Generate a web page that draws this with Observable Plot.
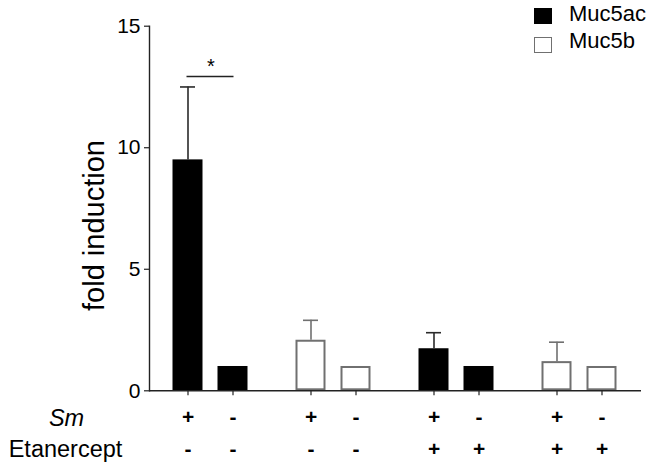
<!DOCTYPE html>
<html><head><meta charset="utf-8">
<script src="https://cdn.jsdelivr.net/npm/d3@7"></script>
<script src="https://cdn.jsdelivr.net/npm/@observablehq/plot@0.6"></script>
<style>
body{margin:0;background:#fff;}
#wrap{position:relative;width:652px;height:469px;font-family:"Liberation Sans",Arial,sans-serif;color:#000;}
#legend .sw{position:absolute;width:18px;height:16px;box-sizing:border-box;}
#legend .lb{position:absolute;font-size:22px;line-height:22px;white-space:nowrap;}
</style></head><body>
<div id="wrap"><div id="chart"></div><div id="legend"></div></div>
<script>
// ---- data ----
const genes = ["Muc5ac","Muc5ac","Muc5b","Muc5b","Muc5ac","Muc5ac","Muc5b","Muc5b"];
const smSign = ["+","-","+","-","+","-","+","-"];
const etanerceptSign = ["-","-","-","-","+","+","+","+"];
const foldInduction = [9.5, 1.0, 2.08, 1.0, 1.73, 1.0, 1.2, 1.0];
const errorUpper = [3.0, 0, 0.82, 0, 0.66, 0, 0.8, 0];
const yTicks = [0, 5, 10, 15];
const legendLabels = ["Muc5ac", "Muc5b"];
const rowLabels = ["Sm", "Etanercept"];
const sigFrom = ["+"], sigTo = ["-"], sigLevel = [12.93], sigLabel = ["*"];

// ---- styles ----
const fills = {Muc5ac: "#000", Muc5b: "#fff"};
const strokes = {Muc5ac: "#000", Muc5b: "#707070"};
const errStrokes = {Muc5ac: "#2a2a2a", Muc5b: "#707070"};
const axisColor = "#222";
const font = '"Liberation Sans", Arial, sans-serif';

const data = genes.map((g, i) => ({
  gene: g, sm: smSign[i], eta: etanerceptSign[i],
  group: `${g} / Etanercept ${etanerceptSign[i]}`,
  value: foldInduction[i], err: errorUpper[i]
}));
const groups = [...new Set(data.map(d => d.group))];
const sig = sigLevel.map((l, i) => ({group: groups[0], from: sigFrom[i], to: sigTo[i], level: l, label: sigLabel[i]}));

const chart = Plot.plot({
  width: 652, height: 469,
  marginLeft: 148.5, marginRight: 11.5, marginTop: 25.7, marginBottom: 78.7,
  style: {fontFamily: font, color: "#000", background: "transparent", overflow: "visible"},
  fx: {domain: groups, padding: 0, axis: null, label: null},
  x: {domain: ["+", "-"], paddingInner: 0.326, paddingOuter: 0.5, axis: null, label: null},
  y: {domain: [0, 15], axis: null},
  marks: [
    ...legendLabels.map(g => Plot.barY(data.filter(d => d.gene === g), {
      fx: "group", x: "sm", y: "value", fill: fills[g], stroke: strokes[g], strokeWidth: 2, inset: 1
    })),
    ...legendLabels.map(g => Plot.ruleX(data.filter(d => d.gene === g && d.err > 0), {
      fx: "group", x: "sm", y1: "value", y2: d => d.value + d.err, stroke: errStrokes[g], strokeWidth: 1.6
    })),
    ...legendLabels.map(g => Plot.tickY(data.filter(d => d.gene === g && d.err > 0), {
      fx: "group", x: "sm", y: d => d.value + d.err, stroke: errStrokes[g], strokeWidth: 1.6, insetLeft: 7.5, insetRight: 7.5
    })),
    Plot.ruleY([0], {stroke: axisColor, strokeWidth: 1.4}),
    Plot.frame({anchor: "left", facetAnchor: "left", stroke: axisColor, strokeWidth: 1.4}),
    Plot.axisY({ticks: yTicks, tickSize: 5, tickPadding: 4, fontSize: 21, label: null, stroke: axisColor, strokeWidth: 1.2, fill: "#000"}),
    Plot.axisX({tickSize: 5, tickFormat: () => "", label: null, stroke: axisColor, strokeWidth: 1.2}),
    Plot.text(data, {fx: "group", x: "sm", text: "sm", frameAnchor: "bottom", dy: 33, fontSize: 21, fontWeight: "bold", fill: "#000"}),
    Plot.text(data, {fx: "group", x: "sm", text: "eta", frameAnchor: "bottom", dy: 65, fontSize: 21, fontWeight: "bold", fill: "#000"}),
    Plot.text([rowLabels[0]], {facetAnchor: "left", frameAnchor: "bottom-left", text: d => d, dx: -83, dy: 35, fontSize: 23.5, fontStyle: "italic", textAnchor: "middle", fill: "#000"}),
    Plot.text([rowLabels[1]], {facetAnchor: "left", frameAnchor: "bottom-left", text: d => d, dx: -84, dy: 66, fontSize: 23.5, textAnchor: "middle", fill: "#000"}),
    Plot.text(["fold induction"], {facetAnchor: "left", frameAnchor: "left", text: d => d, rotate: -90, dx: -46, dy: 17, fontSize: 29, lineAnchor: "bottom", textAnchor: "middle", fill: "#000"}),
    Plot.ruleY(sig, {fx: "group", y: "level", x1: "from", x2: "to", insetLeft: 14, insetRight: 14, stroke: axisColor, strokeWidth: 1.4}),
    Plot.text(sig, {fx: "group", x: "from", y: "level", text: "label", dx: 23, dy: -10, fontSize: 20, fill: "#000"})
  ]
});
document.getElementById("chart").appendChild(chart);

// legend
const leg = document.getElementById("legend");
legendLabels.forEach((g, i) => {
  const sw = document.createElement("div");
  sw.className = "sw";
  sw.style.left = "534px"; sw.style.top = (8 + i * 28.5) + "px";
  sw.style.background = fills[g];
  sw.style.border = `1.5px solid ${strokes[g]}`;
  leg.appendChild(sw);
  const lb = document.createElement("div");
  lb.className = "lb";
  lb.style.left = "569px"; lb.style.top = (2.5 + i * 27) + "px";
  lb.textContent = g;
  leg.appendChild(lb);
});
</script>
</body></html>
